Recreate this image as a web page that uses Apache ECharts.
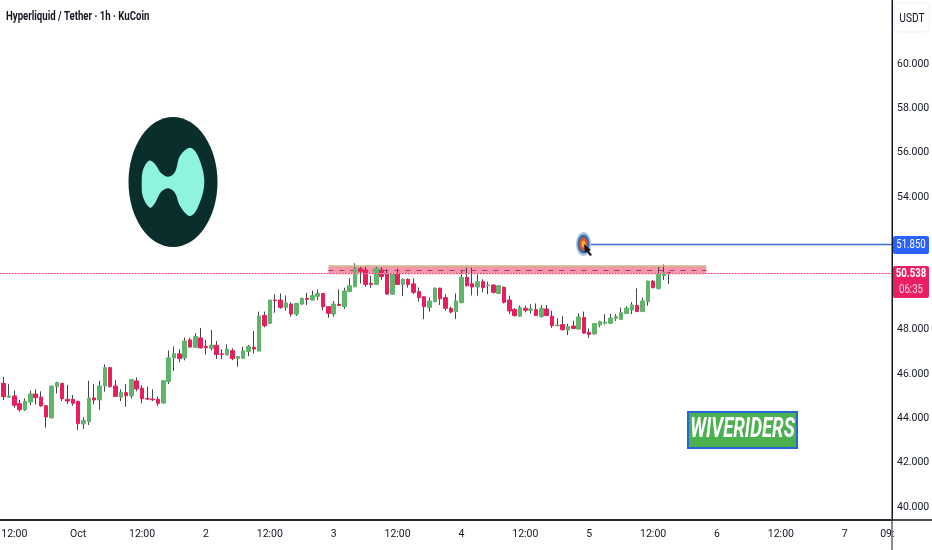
<!DOCTYPE html>
<html><head><meta charset="utf-8">
<style>html,body{margin:0;padding:0;background:#fff}#c{width:932px;height:550px}</style>
<script src="https://cdn.jsdelivr.net/npm/echarts@6/dist/echarts.min.js"></script>
</head><body><div id="c"></div>
<script>
const title = 'Hyperliquid / Tether · 1h · KuCoin';
const unit = 'USDT';
const yTicks = [40,42,44,46,48,54,56,58,60];
const tickIndex = [2,14,26,38,50,62,74,86,98,110,122,134,146,158,166];
const tickText = ['12:00','Oct','12:00','2','12:00','3','12:00','4','12:00','5','12:00','6','12:00','7','09:'];
const barCount = 167;
const targetPrice = 51.85;
const lastPrice = 50.538;
const countdown = '06:35';
const zoneLow = 50.51, zoneHigh = 50.89, zoneMid = 50.70;
const zoneFrom = 61, zoneTo = 132, targetFrom = 110;
// [open, close, low, high]
const candles = [
[45.58,44.98,44.83,45.88],[44.96,45.01,44.92,45.55],[45.01,44.59,44.48,45.25],[44.66,44.39,44.30,44.83],[44.38,44.77,44.33,44.90],
[44.74,45.10,44.59,45.25],[45.10,44.93,44.63,45.31],[44.96,44.56,44.53,45.22],[44.57,44.06,43.58,44.60],[44.02,45.46,44.00,45.48],
[45.43,45.61,45.13,45.66],[45.58,44.89,44.78,45.60],[44.86,44.78,44.65,45.51],[44.86,44.68,44.57,45.05],[44.77,43.76,43.47,44.79],
[43.75,43.90,43.52,44.05],[43.85,44.92,43.70,45.70],[44.92,44.83,44.63,45.54],[44.83,45.46,44.38,45.70],[45.46,46.29,45.21,46.44],
[46.29,45.43,45.40,46.32],[45.46,44.99,44.96,45.73],[44.96,45.18,44.78,45.31],[45.16,45.02,44.53,45.55],[45.01,45.75,44.89,45.77],
[45.69,45.33,45.22,45.85],[45.36,44.89,44.68,45.49],[44.90,44.87,44.83,45.43],[44.87,44.84,44.78,45.31],[44.86,44.68,44.56,44.98],
[44.69,45.70,44.67,45.72],[45.66,46.73,45.55,47.06],[46.73,46.92,46.14,47.25],[46.91,46.70,46.54,47.12],[46.73,47.49,46.62,47.64],
[47.54,47.22,47.20,47.64],[47.21,47.70,47.19,47.84],[47.63,47.18,47.16,48.08],[47.25,47.19,46.88,47.54],[47.16,47.31,47.06,47.99],
[47.30,46.88,46.68,47.49],[46.91,46.88,46.68,47.12],[46.86,47.12,46.84,47.34],[47.06,46.70,46.63,47.16],[46.70,46.79,46.33,46.82],
[46.71,47.05,46.69,47.24],[47.02,47.24,46.81,47.31],[47.21,47.13,46.93,47.94],[47.04,48.62,47.02,48.82],[48.65,48.18,48.11,48.82],
[48.29,49.34,48.27,49.36],[49.34,49.31,48.77,49.60],[49.34,49.01,48.95,49.64],[49.01,49.21,48.86,49.55],[49.16,48.71,48.59,49.24],
[48.70,49.19,48.62,49.21],[49.16,49.42,49.12,49.46],[49.42,49.37,49.12,49.67],[49.34,49.54,49.32,49.76],[49.51,49.64,49.34,49.82],
[49.64,49.04,48.89,49.66],[49.04,48.74,48.54,49.07],[48.71,49.16,48.59,49.30],[49.15,49.10,49.07,49.82],[49.04,49.75,48.94,49.90],
[49.73,49.99,49.70,50.32],[49.94,50.77,49.92,51.00],[50.76,50.64,50.09,50.85],[50.70,50.05,49.94,50.88],[50.10,50.05,49.90,50.43],
[50.05,50.77,50.03,50.85],[50.70,50.40,50.25,50.82],[50.55,49.61,49.59,50.73],[49.61,50.52,49.59,50.55],[50.55,50.05,50.03,50.77],
[50.05,50.28,49.52,50.32],[50.28,50.05,49.90,50.32],[50.07,49.69,49.61,50.32],[49.72,49.45,49.27,49.91],[49.49,49.04,48.48,49.51],
[49.01,49.30,48.82,49.45],[49.27,49.88,49.24,49.90],[49.88,49.40,49.12,49.90],[49.45,48.97,48.86,49.60],[48.97,48.80,48.74,49.04],
[48.82,49.30,48.48,49.64],[49.22,50.37,49.20,50.70],[50.37,49.99,49.95,50.80],[50.08,49.93,49.55,50.80],[49.93,50.17,49.54,50.50],
[50.17,49.90,49.69,50.28],[49.99,50.02,49.61,50.17],[50.02,49.69,49.64,50.05],[49.64,49.99,49.61,50.02],[49.92,49.24,49.19,49.95],
[49.34,48.85,48.70,49.54],[48.92,48.64,48.59,48.97],[48.61,49.00,48.58,49.10],[48.97,48.88,48.79,49.09],[48.88,48.94,48.73,49.15],
[48.91,48.64,48.62,49.19],[48.59,48.97,48.55,49.12],[48.94,48.64,48.61,49.12],[48.61,48.18,48.09,48.86],[48.18,48.21,48.15,48.52],
[48.23,48.00,47.97,48.62],[47.99,48.14,47.76,48.26],[48.17,48.06,48.03,48.41],[48.03,48.58,48.01,48.74],[48.55,47.85,47.83,48.82],
[47.88,47.79,47.63,48.06],[47.81,48.28,47.79,48.30],[48.22,48.37,48.12,48.41],[48.29,48.35,48.24,48.70],[48.29,48.53,48.26,48.71],
[48.52,48.59,48.40,48.70],[48.47,48.77,48.45,49.00],[48.73,48.98,48.71,49.06],[48.89,49.12,48.70,49.25],[49.10,48.82,48.80,49.87],
[48.82,49.30,48.80,49.45],[49.27,50.20,49.09,50.22],[50.19,49.90,49.87,50.25],[49.87,50.49,49.81,50.85],[50.44,50.58,50.25,50.95],
[50.58,50.538,50.07,50.62]
];

const FONT = 'Roboto,"Liberation Sans",sans-serif';
const GREEN = '#5fb56a', RED = '#e91e5e', WICK = '#444444', INK = '#131722';
const cats = Array.from({length: barCount}, (_, i) => {
  const k = tickIndex.indexOf(i);
  return k >= 0 ? tickText[k] : '';
});
const bodies = candles.map(c => [c[0], c[1], Math.min(c[0], c[1]), Math.max(c[0], c[1])]);
const narrowText = (x, y, text, font, fill, sx, align, z) => ({
  type: 'text', z: z || 61, x, y, scaleX: sx, originX: 0, originY: 0,
  style: {text, fill, font: font + ' ' + FONT, align: align || 'center', verticalAlign: 'middle'}
});

const chart = echarts.init(document.getElementById('c'), null, {renderer: 'canvas'});
chart.setOption({
  animation: false,
  backgroundColor: '#ffffff',
  grid: {left: 1, top: 0, right: 42, height: 520, outerBoundsMode: 'none', containLabel: false},
  xAxis: {
    type: 'category', data: cats, boundaryGap: true,
    axisLine: {show: true, lineStyle: {color: INK, width: 1.5}},
    axisTick: {show: false}, splitLine: {show: false},
    axisLabel: {
      interval: (i) => tickIndex.includes(i), hideOverlap: false,
      color: INK, fontFamily: FONT, fontSize: 10.5, margin: 9,
      formatter: (v) => v
    }
  },
  yAxis: {
    type: 'value', position: 'right', offset: 2, min: 39.41, max: 62.89, scale: true,
    axisLine: {show: true, lineStyle: {color: INK, width: 1}},
    axisTick: {show: false}, splitLine: {show: false},
    axisLabel: {customValues: yTicks, color: INK, fontFamily: FONT, fontSize: 10.5, margin: 5,
      formatter: (v) => v.toFixed(3)}
  },
  series: [
    {
      type: 'candlestick', name: 'wick', data: candles, barWidth: 1, z: 3,
      itemStyle: {color: WICK, color0: WICK, borderColor: WICK, borderColor0: WICK, borderColorDoji: WICK, borderWidth: 1},
      markArea: {
        silent: true, z: 1,
        itemStyle: {color: '#f497a8'},
        data: [[{coord: [zoneFrom, zoneHigh]}, {coord: [zoneTo, zoneLow]}]]
      },
      markLine: {
        silent: true, symbol: 'none', animation: false, z: 4,
        label: {show: false},
        data: [
          [{coord: [zoneFrom, zoneHigh], lineStyle: {color: '#c8bf90', type: 'solid', width: 1.5}}, {coord: [zoneTo, zoneHigh]}],
          [{coord: [zoneFrom, zoneMid], lineStyle: {color: '#b0307a', type: [5, 6], width: 1.2}}, {coord: [zoneTo, zoneMid]}]
        ]
      }
    },
    {
      type: 'candlestick', name: 'body', data: bodies, barWidth: 4, z: 5,
      itemStyle: {color: GREEN, color0: RED, borderColor: GREEN, borderColor0: RED, borderColorDoji: RED, borderWidth: 1}
    }
  ]
});
const yLast = Math.floor(chart.convertToPixel({yAxisIndex: 0}, lastPrice)) + 0.5;
const yTarget = Math.floor(chart.convertToPixel({yAxisIndex: 0}, targetPrice)) + 0.5;
const xTarget = chart.convertToPixel({xAxisIndex: 0}, targetFrom);
chart.setOption({
  graphic: [
    {type: 'line', z: 24, silent: true, shape: {x1: 0, y1: yLast, x2: 892, y2: yLast}, style: {stroke: '#fbc4d6', fill: null, lineWidth: 1}},
    {type: 'line', z: 25, silent: true, shape: {x1: 0, y1: yLast, x2: 892, y2: yLast}, style: {stroke: '#f0306e', fill: null, lineWidth: 1, lineDash: [1.5, 1.5]}},
    {type: 'line', z: 25, silent: true, shape: {x1: xTarget, y1: yTarget, x2: 892, y2: yTarget}, style: {stroke: '#3f6fd8', fill: null, lineWidth: 1.5}},
    {type: 'line', z: 50, shape: {x1: 0, y1: 520, x2: 932, y2: 520}, style: {stroke: INK, lineWidth: 1.5}},
    {type: 'line', z: 50, shape: {x1: 892, y1: 0, x2: 892, y2: 550}, style: {stroke: INK, lineWidth: 1}},
    narrowText(6, 17, title, 'bold 13px', INK, 0.74, 'left'),
    {type: 'rect', z: 50, shape: {x: 894, y: 3, width: 35, height: 29, r: 4}, style: {fill: '#fff', stroke: '#f0f1f3', lineWidth: 1}},
    narrowText(912, 19, unit, '12px', INK, 0.85),
    // logo
    {type: 'ellipse', z: 20, shape: {cx: 173, cy: 182, rx: 44.5, ry: 65}, style: {fill: '#0a2e2b'}},
    {type: 'polygon', z: 21, shape: {smooth: 0.35, points: [[141.7,183],[143,170],[149,160.7],[155,164],[161,173],[168.3,176.7],[175,172],[180,156],[190,147.7],[198,156],[204.3,181.7],[198,207],[190,216],[180,206],[175,193],[168.3,188.3],[161,192],[155,203],[150,207.7],[143,197]]}, style: {fill: '#8ef3df'}},
    // target
    {type: 'ellipse', z: 30, shape: {cx: 583.5, cy: 244, rx: 7.5, ry: 12}, style: {fill: '#a9c7e6'}},
    {type: 'ellipse', z: 31, shape: {cx: 583.5, cy: 244, rx: 6, ry: 9.5}, style: {fill: '#41689f'}},
    {type: 'ellipse', z: 32, shape: {cx: 583.5, cy: 244, rx: 4.2, ry: 6.5}, style: {fill: '#d6542c'}},
    {type: 'ellipse', z: 33, shape: {cx: 583.5, cy: 244, rx: 2.2, ry: 3.6}, style: {fill: '#f2ad3c'}},
    {type: 'polygon', z: 34, shape: {points: [[584, 244], [591, 250], [589, 251], [592, 255], [590, 256], [587, 252], [585, 253]]}, style: {fill: '#15161a'}},
    // price tags
    {type: 'rect', z: 60, shape: {x: 893, y: 236, width: 36, height: 18, r: 2}, style: {fill: '#2962ff'}},
    narrowText(911, 245, targetPrice.toFixed(3), '12px', '#fff', 0.8),
    {type: 'rect', z: 60, shape: {x: 893, y: 266, width: 36, height: 32, r: 2}, style: {fill: '#e91e63'}},
    narrowText(911, 274, lastPrice.toFixed(3), 'bold 12px', '#fff', 0.8),
    narrowText(911, 290, countdown, '12px', '#fbd5e2', 0.8),
    // watermark
    {type: 'rect', z: 40, shape: {x: 688, y: 412, width: 109, height: 36}, style: {fill: '#4caf50', stroke: '#2368d8', lineWidth: 2}},
    narrowText(742.5, 430, 'WIVERIDERS', 'italic bold 27px', '#fff', 0.69, 'center', 41)
  ]
});
</script></body></html>
